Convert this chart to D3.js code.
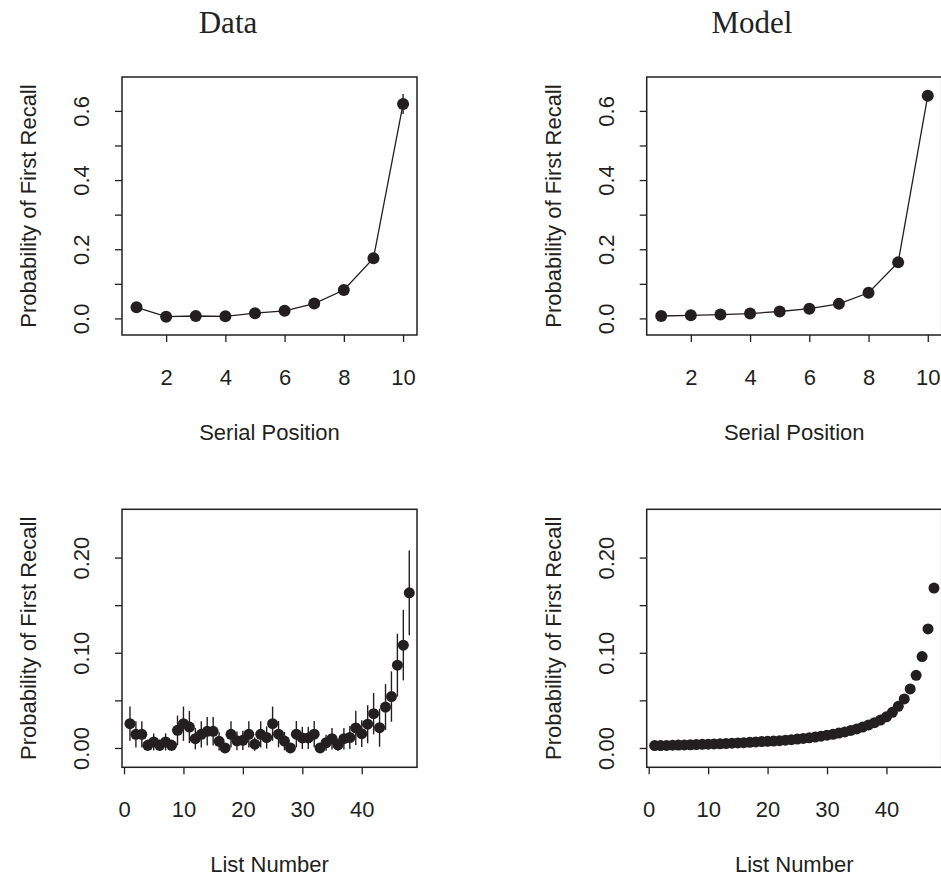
<!DOCTYPE html>
<html><head><meta charset="utf-8">
<script src="https://cdn.jsdelivr.net/npm/d3@7"></script>
<style>body{margin:0;background:#fff}svg{display:block}</style>
</head><body><svg id="c" width="941" height="880"></svg>
<script>
// ---------- data ----------
const panelTitles = ["Data", "Model"];
const serialPositions = [1, 2, 3, 4, 5, 6, 7, 8, 9, 10];
const dataSerialProb = [0.032, 0.005, 0.007, 0.006, 0.015, 0.022, 0.043, 0.082, 0.174, 0.620];
const dataSerialErr  = [0.010, 0.005, 0.005, 0.005, 0.008, 0.009, 0.012, 0.015, 0.015, 0.029];
const modelSerialProb = [0.007, 0.009, 0.011, 0.014, 0.020, 0.028, 0.042, 0.074, 0.162, 0.644];

const listNumbers = [1,2,3,4,5,6,7,8,9,10,11,12,13,14,15,16,17,18,19,20,21,22,23,24,
                     25,26,27,28,29,30,31,32,33,34,35,36,37,38,39,40,41,42,43,44,45,46,47,48];
const dataListProb = [0.0255,0.0143,0.0143,0.0028,0.0063,0.0028,0.0063,0.0028,0.0185,0.0255,
                      0.0220,0.0098,0.0143,0.0175,0.0175,0.0070,0.0000,0.0143,0.0075,0.0080,
                      0.0143,0.0040,0.0143,0.0110,0.0255,0.0145,0.0072,0.0000,0.0145,0.0105,
                      0.0105,0.0145,0.0000,0.0055,0.0098,0.0033,0.0098,0.0110,0.0210,0.0150,
                      0.0250,0.0360,0.0213,0.0430,0.0540,0.0870,0.1080,0.1630];
const dataListErr  = [0.0180,0.0137,0.0137,0.0060,0.0090,0.0060,0.0090,0.0060,0.0155,0.0180,
                      0.0170,0.0113,0.0137,0.0150,0.0150,0.0096,0.0000,0.0137,0.0098,0.0102,
                      0.0137,0.0070,0.0137,0.0117,0.0180,0.0138,0.0097,0.0000,0.0138,0.0117,
                      0.0117,0.0138,0.0000,0.0085,0.0113,0.0066,0.0113,0.0120,0.0180,0.0140,
                      0.0200,0.0217,0.0200,0.0240,0.0265,0.0330,0.0370,0.0445];
const modelListProb = [0.0025,0.0026,0.0027,0.0029,0.0030,0.0032,0.0034,0.0036,0.0038,0.0040,
                       0.0042,0.0044,0.0047,0.0050,0.0053,0.0056,0.0059,0.0063,0.0067,0.0070,
                       0.0073,0.0077,0.0082,0.0087,0.0093,0.0100,0.0107,0.0115,0.0124,0.0134,
                       0.0144,0.0156,0.0169,0.0184,0.0200,0.0220,0.0242,0.0266,0.0293,0.0327,
                       0.0375,0.0437,0.0515,0.0620,0.0763,0.0960,0.1250,0.1680];

const serialTicks = [2, 4, 6, 8, 10];
const serialTickLabels = ["2", "4", "6", "8", "10"];
const serialYTicks = [0, 0.1, 0.2, 0.3, 0.4, 0.5, 0.6];
const serialYTickLabels = ["0.0", "", "0.2", "", "0.4", "", "0.6"];
const listTicks = [0, 10, 20, 30, 40];
const listTickLabels = ["0", "10", "20", "30", "40"];
const listYTicks = [0, 0.05, 0.10, 0.15, 0.20];
const listYTickLabels = ["0.00", "", "0.10", "", "0.20"];

const yAxisTitle = "Probability of First Recall";
const serialXTitle = "Serial Position";
const listXTitle = "List Number";

// ---------- drawing ----------
const svg = d3.select("#c");
const INK = "#231f20";
const SANS = "'Liberation Sans', Arial, Helvetica, sans-serif";
const FS = 22;

function panel(o) {
  const x = d3.scaleLinear().domain(o.xDomain).range([o.left, o.left + o.w]);
  const y = d3.scaleLinear().domain(o.yDomain).range([o.top + o.h, o.top]);
  const g = svg.append("g");

  // x axis
  const gx = g.append("g").attr("transform", `translate(0,${o.top + o.h})`)
    .call(d3.axisBottom(x).tickValues(o.xTicks).tickSize(7)
      .tickFormat((d, i) => o.xTickLabels[i]));
  gx.select(".domain").remove();
  gx.selectAll(".tick line").attr("stroke", INK).attr("stroke-width", 1.3);
  gx.selectAll(".tick text").attr("y", 50).attr("dy", null)
    .attr("fill", INK).style("font-family", SANS).style("font-size", FS + "px");

  // y axis
  const gy = g.append("g").attr("transform", `translate(${o.left},0)`)
    .call(d3.axisLeft(y).tickValues(o.yTicks).tickSize(7)
      .tickFormat((d, i) => o.yTickLabels[i]));
  gy.select(".domain").remove();
  gy.selectAll(".tick line").attr("stroke", INK).attr("stroke-width", 1.3);
  gy.selectAll(".tick text").attr("x", null).attr("dy", null)
    .attr("transform", "translate(-33,0) rotate(-90)")
    .attr("text-anchor", "middle")
    .attr("fill", INK).style("font-family", SANS).style("font-size", FS + "px");

  // box
  g.append("rect").attr("x", o.left).attr("y", o.top).attr("width", o.w).attr("height", o.h)
    .attr("fill", "none").attr("stroke", INK).attr("stroke-width", 1.5);

  // axis titles
  g.append("text").attr("transform", `translate(${o.left - 86},${o.top + o.h / 2}) rotate(-90)`)
    .attr("text-anchor", "middle").attr("fill", INK)
    .style("font-family", SANS).style("font-size", FS + "px").text(yAxisTitle);
  g.append("text").attr("x", o.left + o.w / 2).attr("y", o.top + o.h + 105)
    .attr("text-anchor", "middle").attr("fill", INK)
    .style("font-family", SANS).style("font-size", FS + "px").text(o.xTitle);

  const pts = o.xs.map((v, i) => ({ x: v, p: o.ps[i], e: o.es ? o.es[i] : 0 }));

  if (o.line) {
    g.append("path").datum(pts)
      .attr("d", d3.line().x(d => x(d.x)).y(d => y(d.p)))
      .attr("fill", "none").attr("stroke", INK).attr("stroke-width", 1.3);
  }
  if (o.es) {
    g.selectAll(".err").data(pts.filter(d => d.e > 0)).join("line")
      .attr("x1", d => x(d.x)).attr("x2", d => x(d.x))
      .attr("y1", d => y(d.p - d.e)).attr("y2", d => y(d.p + d.e))
      .attr("stroke", INK).attr("stroke-width", 1.4);
  }
  g.selectAll(".pt").data(pts).join("circle")
    .attr("cx", d => x(d.x)).attr("cy", d => y(d.p)).attr("r", o.r)
    .attr("fill", INK);
}

const topDom = { xDomain: [0.51, 10.47], yDomain: [-0.048, 0.698] };
const botDom = { xDomain: [-0.34, 49.3], yDomain: [-0.0203, 0.2507] };
const W = 295, H1 = 258, H2 = 258;

panel({ left: 122, top: 77, w: W, h: H1, ...topDom,
  xTicks: serialTicks, xTickLabels: serialTickLabels,
  yTicks: serialYTicks, yTickLabels: serialYTickLabels, xTitle: serialXTitle,
  xs: serialPositions, ps: dataSerialProb, es: dataSerialErr, line: true, r: 6 });
panel({ left: 646.7, top: 77, w: W, h: H1, ...topDom,
  xTicks: serialTicks, xTickLabels: serialTickLabels,
  yTicks: serialYTicks, yTickLabels: serialYTickLabels, xTitle: serialXTitle,
  xs: serialPositions, ps: modelSerialProb, line: true, r: 6 });
panel({ left: 122, top: 509.3, w: W, h: H2, ...botDom,
  xTicks: listTicks, xTickLabels: listTickLabels,
  yTicks: listYTicks, yTickLabels: listYTickLabels, xTitle: listXTitle,
  xs: listNumbers, ps: dataListProb, es: dataListErr, line: false, r: 5.5 });
panel({ left: 646.7, top: 509.3, w: W, h: H2, ...botDom,
  xTicks: listTicks, xTickLabels: listTickLabels,
  yTicks: listYTicks, yTickLabels: listYTickLabels, xTitle: listXTitle,
  xs: listNumbers, ps: modelListProb, line: false, r: 5.5 });

// column titles
svg.selectAll(".title").data(panelTitles).join("text")
  .attr("x", (d, i) => [228, 752][i]).attr("y", 33)
  .attr("text-anchor", "middle").attr("fill", "#222")
  .style("font-family", "'Liberation Serif', 'Times New Roman', serif")
  .style("font-size", "31px").text(d => d);
</script>
</body></html>
